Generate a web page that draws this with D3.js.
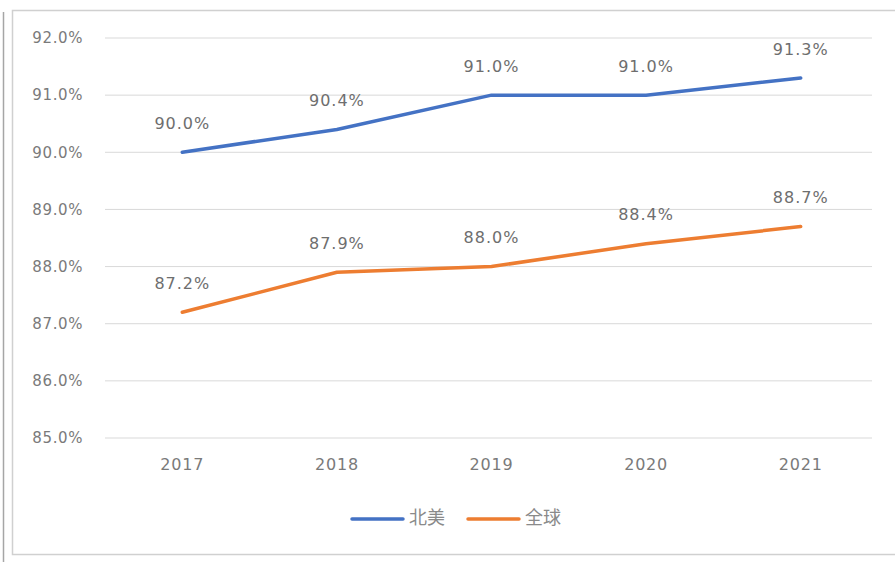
<!DOCTYPE html>
<html><head><meta charset="utf-8">
<script src="https://cdn.jsdelivr.net/npm/d3@7"></script>
<style>body{margin:0;background:#fff;}svg{display:block;font-family:"Noto Sans CJK SC","DejaVu Sans",sans-serif;}</style>
</head><body><svg id="c" width="895" height="570"></svg>
<script>
const years = ["2017","2018","2019","2020","2021"];
const northAmerica = [90.0, 90.4, 91.0, 91.0, 91.3];
const globalVals = [87.2, 87.9, 88.0, 88.4, 88.7];
const seriesNames = ["北美","全球"];
const yTicks = [85,86,87,88,89,90,91,92];
const colors = ["#4472C4","#ED7D31"];
const numFont = "DejaVu Sans, sans-serif";

const svg = d3.select("#c");
// outer decorations
svg.append("line").attr("x1",3.5).attr("x2",3.5).attr("y1",12).attr("y2",562).attr("stroke","#a6a6a6").attr("stroke-width",1.5);
svg.append("rect").attr("x",12.5).attr("y",10.5).attr("width",890).attr("height",544).attr("fill","#fff").attr("stroke","#d0d0d0").attr("stroke-width",1.5);

const x = d3.scaleBand().domain(years).range([105,878]);
const y = d3.scaleLinear().domain([85,92]).range([438,38]);

const grid = svg.append("g");
grid.selectAll("line").data(yTicks).join("line")
  .attr("x1",105).attr("x2",872).attr("y1",d=>y(d)).attr("y2",d=>y(d))
  .attr("stroke","#d9d9d9").attr("stroke-width",1);

const yAxis = svg.append("g").attr("transform","translate(105,0)")
  .call(d3.axisLeft(y).tickValues(yTicks).tickSize(0).tickPadding(22).tickFormat(d=>d.toFixed(1)+"%"));
yAxis.select(".domain").remove();
yAxis.selectAll("text").attr("fill","#7a7a7a").attr("font-size",15).attr("letter-spacing",0.6).attr("font-family",numFont);

const xAxis = svg.append("g").attr("transform","translate(0,438)")
  .call(d3.axisBottom(x).tickSize(0).tickPadding(21));
xAxis.select(".domain").remove();
xAxis.selectAll("text").attr("fill","#7a7a7a").attr("font-size",16).attr("letter-spacing",0.8).attr("font-family",numFont);

const series = [northAmerica, globalVals];
const line = d3.line().x((d,i)=>x(years[i])+x.bandwidth()/2).y(d=>y(d));
series.forEach((s,k)=>{
  svg.append("path").datum(s).attr("d",line).attr("fill","none")
    .attr("stroke",colors[k]).attr("stroke-width",3.5).attr("stroke-linecap","round").attr("stroke-linejoin","round");
  svg.append("g").selectAll("text").data(s).join("text")
    .attr("x",(d,i)=>x(years[i])+x.bandwidth()/2)
    .attr("y",(d)=>y(d)-28)
    .attr("text-anchor","middle").attr("dominant-baseline","middle")
    .attr("fill","#6e6e6e").attr("font-size",16).attr("letter-spacing",1).attr("font-family",numFont)
    .text(d=>d.toFixed(1)+"%");
});

// legend
const lg = svg.append("g");
const legX = [352, 468];
seriesNames.forEach((n,k)=>{
  lg.append("line").attr("x1",legX[k]).attr("x2",legX[k]+51).attr("y1",519).attr("y2",519)
    .attr("stroke",colors[k]).attr("stroke-width",3.5).attr("stroke-linecap","round");
  lg.append("text").attr("x",legX[k]+57).attr("y",519).attr("dominant-baseline","middle")
    .attr("fill","#8a8a8a").attr("font-size",18).text(n);
});
</script></body></html>
